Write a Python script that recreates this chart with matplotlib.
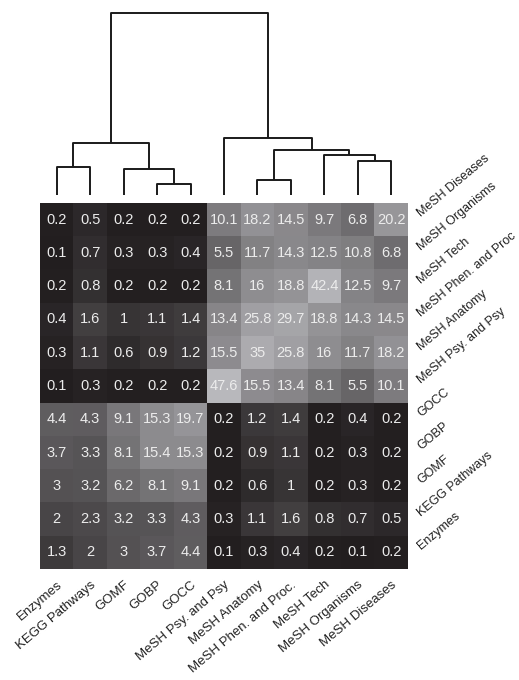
import matplotlib
matplotlib.use('Agg')
import matplotlib.pyplot as plt
import numpy as np
from matplotlib.colors import LinearSegmentedColormap

plt.rcParams['font.family'] = ['Liberation Sans', 'DejaVu Sans']

# Columns (left to right) and rows (top to bottom)
col_labels = ['Enzymes', 'KEGG Pathways', 'GOMF', 'GOBP', 'GOCC',
              'MeSH Psy. and Psy', 'MeSH Anatomy', 'MeSH Phen. and Proc.',
              'MeSH Tech', 'MeSH Organisms', 'MeSH Diseases']
row_labels = ['MeSH Diseases', 'MeSH Organisms', 'MeSH Tech',
              'MeSH Phen. and Proc', 'MeSH Anatomy', 'MeSH Psy. and Psy',
              'GOCC', 'GOBP', 'GOMF', 'KEGG Pathways', 'Enzymes']

values = [
    [0.2, 0.5, 0.2, 0.2, 0.2, 10.1, 18.2, 14.5, 9.7, 6.8, 20.2],
    [0.1, 0.7, 0.3, 0.3, 0.4, 5.5, 11.7, 14.3, 12.5, 10.8, 6.8],
    [0.2, 0.8, 0.2, 0.2, 0.2, 8.1, 16, 18.8, 42.4, 12.5, 9.7],
    [0.4, 1.6, 1, 1.1, 1.4, 13.4, 25.8, 29.7, 18.8, 14.3, 14.5],
    [0.3, 1.1, 0.6, 0.9, 1.2, 15.5, 35, 25.8, 16, 11.7, 18.2],
    [0.1, 0.3, 0.2, 0.2, 0.2, 47.6, 15.5, 13.4, 8.1, 5.5, 10.1],
    [4.4, 4.3, 9.1, 15.3, 19.7, 0.2, 1.2, 1.4, 0.2, 0.4, 0.2],
    [3.7, 3.3, 8.1, 15.4, 15.3, 0.2, 0.9, 1.1, 0.2, 0.3, 0.2],
    [3, 3.2, 6.2, 8.1, 9.1, 0.2, 0.6, 1, 0.2, 0.3, 0.2],
    [2, 2.3, 3.2, 3.3, 4.3, 0.3, 1.1, 1.6, 0.8, 0.7, 0.5],
    [1.3, 2, 3, 3.7, 4.4, 0.1, 0.3, 0.4, 0.2, 0.1, 0.2],
]

# Column dendrogram: (left id, right id, height); leaves are 0..10, new ids from 11
merges = [
    (3, 4, 11),
    (0, 1, 28),
    (2, 11, 26),
    (12, 13, 52),
    (6, 7, 15),
    (9, 10, 34),
    (8, 16, 40),
    (15, 17, 45),
    (5, 18, 57),
    (14, 19, 182),
]

data = np.array(values)
n_rows, n_cols = data.shape

fig = plt.figure(figsize=(5.19, 6.8), dpi=100)
W, H = 519, 680
left, right = 40 / W, 408 / W
hm_top, hm_bot = 1 - 203 / H, 1 - 569 / H

ax = fig.add_axes([left, hm_bot, right - left, hm_top - hm_bot])
cmap = LinearSegmentedColormap.from_list('g', ['#221e1f', '#b8b8bc'])
ax.imshow(np.log1p(data), cmap=cmap, aspect='auto',
          vmin=np.log1p(0.15), vmax=np.log1p(47.6), interpolation='nearest')

for i in range(n_rows):
    for j in range(n_cols):
        ax.text(j, i, '%g' % data[i, j], ha='center', va='center',
                color='#ececec', fontsize=10.5)

for s in ax.spines.values():
    s.set_visible(False)

ax.set_xticks(range(n_cols))
ax.set_xticklabels(col_labels, rotation=40, ha='right', va='top',
                   rotation_mode='anchor', fontsize=9.5, color='#222222')
ax.yaxis.tick_right()
ax.set_yticks(range(n_rows))
ax.set_yticklabels(row_labels, rotation=40, ha='left', va='bottom',
                   rotation_mode='anchor', fontsize=9, color='#222222')
ax.tick_params(axis='both', length=0)
ax.tick_params(axis='x', pad=7)
ax.tick_params(axis='y', pad=11)

# Dendrogram above the heatmap
dax = fig.add_axes([left, hm_top, right - left, 1 - hm_top])
dax.set_xlim(-0.5, n_cols - 0.5)
dax.set_ylim(-8, 195)
dax.axis('off')

pos = {k: float(k) for k in range(n_cols)}
hgt = {k: 0.0 for k in range(n_cols)}
for idx, (a, b, h) in enumerate(merges):
    new = n_cols + idx
    dax.plot([pos[a], pos[a], pos[b], pos[b]], [hgt[a], h, h, hgt[b]],
             color='#1a1a1a', lw=1.4, solid_capstyle='butt')
    pos[new] = (pos[a] + pos[b]) / 2
    hgt[new] = h

fig.savefig('out.png', dpi=100)
